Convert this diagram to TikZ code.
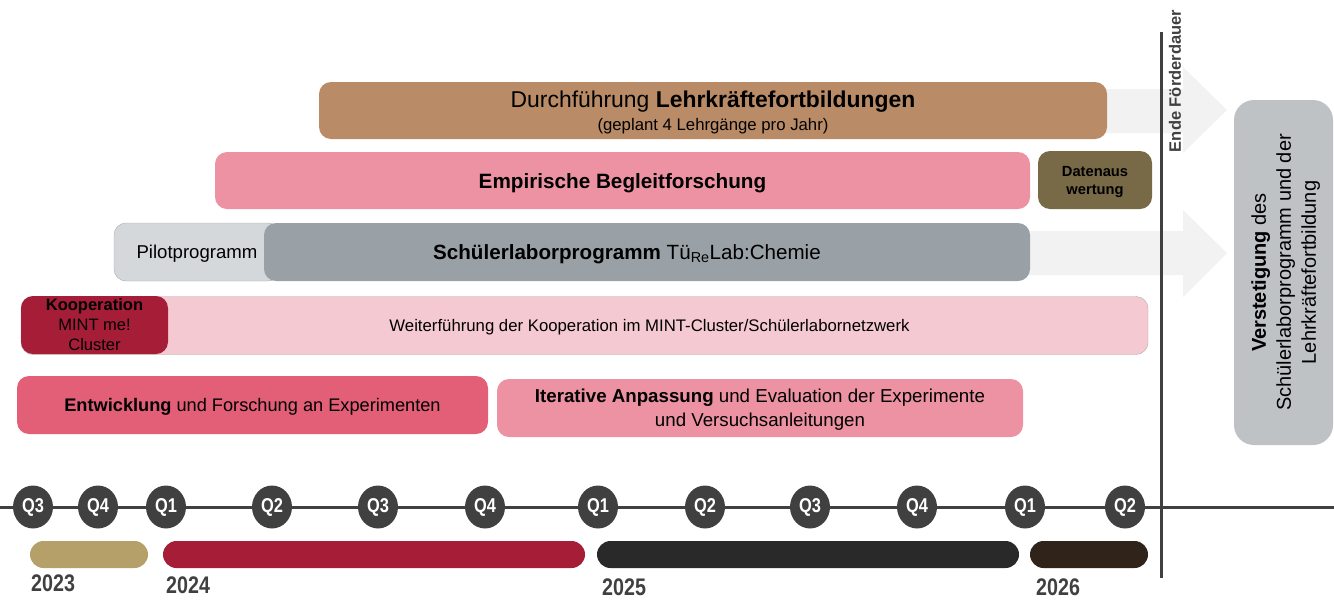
\documentclass[tikz,border=0pt]{standalone}
\usepackage{fontspec}
\setmainfont{Liberation Sans}
\newfontfamily\narrowfont{Liberation Sans}[FakeStretch=0.82]
\usetikzlibrary{shapes.geometric}
\definecolor{fortbraun}{HTML}{B98C67}
\definecolor{rosa}{HTML}{EC92A2}
\definecolor{datenbraun}{HTML}{786A46}
\definecolor{pilotgrau}{HTML}{D5D8DB}
\definecolor{laborgrau}{HTML}{99A0A6}
\definecolor{hellrosa}{HTML}{F5C9D1}
\definecolor{randgrau}{HTML}{ABABAB}
\definecolor{kooprot}{HTML}{A51D37}
\definecolor{entwrot}{HTML}{E35F77}
\definecolor{verstgrau}{HTML}{BEC2C5}
\definecolor{pfeilgrau}{HTML}{F2F2F2}
\definecolor{dunkelgrau}{HTML}{404040}
\definecolor{gold}{HTML}{B5A06A}
\definecolor{fastschwarz}{HTML}{292929}
\definecolor{dunkelbraun}{HTML}{30231A}
\tikzset{
	balken/.style={rectangle, rounded corners=12pt, inner sep=0pt, minimum height=58pt, align=center, text=black, text depth=0pt},
	achse/.style={draw=dunkelgrau, line width=3pt},
	quartal/.style={ellipse, fill=dunkelgrau, text=white, inner sep=0pt, minimum width=40pt, minimum height=43pt, font=\narrowfont\bfseries\fontsize{20}{20}\selectfont},
	jahr/.style={rectangle, rounded corners=13.5pt, inner sep=0pt, minimum height=27pt},
	jahrtext/.style={anchor=west, inner sep=0pt, text=dunkelgrau, font=\narrowfont\bfseries\fontsize{24}{24}\selectfont}
}
\begin{document}
\begin{tikzpicture}[x=1pt,y=-1pt]
	\useasboundingbox (0,0) rectangle (1334,614);
	\fill[pfeilgrau](1090,89)--(1183,89)--(1183,67)--(1227,110)--(1183,153)--(1183,133)--(1090,133)--cycle;
	\fill[pfeilgrau](1020,231)--(1183,231)--(1183,210)--(1227,253)--(1183,297)--(1183,275)--(1020,275)--cycle;
	\coordinate (ende oben) at (1161,32);
	\coordinate (ende unten) at (1161,578);
	\coordinate (achse links) at (0,507);
	\coordinate (achse rechts) at (1334,507);
	\draw[achse] (ende oben)--(ende unten);
	\draw[achse] (achse links)--(achse rechts);
	\node[rotate=90, inner sep=0pt, text=dunkelgrau, font=\bfseries\fontsize{16.5}{16}\selectfont] (ende) at (1175,81) {Ende Förderdauer};
	\node[balken, fill=fortbraun, minimum width=788pt, minimum height=57pt, font=\fontsize{16.75}{22.5}\selectfont, text depth=-1.5pt] (fortbildung) at (713,110.5) {{\fontsize{22.9}{22}\selectfont Durchführung \textbf{Lehrkräftefortbildungen}}\\(geplant 4 Lehrgänge pro Jahr)};
	\node[balken, fill=rosa, minimum width=815pt, minimum height=57pt, font=\bfseries\fontsize{20.7}{24}\selectfont] (begleitung) at (622.5,180.5) {Empirische Begleitforschung};
	\node[balken, fill=datenbraun, minimum width=114pt, font=\bfseries\fontsize{14.7}{18}\selectfont] (daten) at (1095,180) {Datenaus\\wertung};
	\node[balken, fill=pilotgrau, draw=randgrau, minimum width=166pt, font=\fontsize{18.6}{22}\selectfont] (pilot) at (197,252) {Pilotprogramm};
	\node[balken, fill=laborgrau, minimum width=766pt] (labor) at (647,252) {};
	\node[inner sep=0pt, text depth=0pt, font=\fontsize{20.6}{24}\selectfont] (labortext) at ([xshift=-20pt]labor.center) {\textbf{Schülerlaborprogramm} Tü\textsubscript{Re}Lab:Chemie};
	\node[balken, fill=hellrosa, draw=randgrau, minimum width=1127pt] (netzwerk) at (584.5,325.5) {};
	\node[inner sep=0pt, text depth=0pt, font=\fontsize{16.75}{20}\selectfont] (netzwerktext) at ([xshift=65pt]netzwerk.center) {Weiterführung der Kooperation im MINT-Cluster/Schülerlabornetzwerk};
	\node[balken, fill=kooprot, minimum width=147pt, font=\fontsize{16.5}{20}\selectfont] (kooperation) at (94.5,325) {\textbf{Kooperation}\\MINT me!\\Cluster};
	\node[balken, fill=entwrot, minimum width=471pt, font=\fontsize{18.2}{22}\selectfont] (entwicklung) at (252.5,405) {\textbf{Entwicklung} und Forschung an Experimenten};
	\node[balken, fill=rosa, minimum width=526pt, font=\fontsize{18.7}{24}\selectfont] (anpassung) at (760,408) {\textbf{Iterative Anpassung} und Evaluation der Experimente\\und Versuchsanleitungen};
	\node[balken, fill=verstgrau, rounded corners=20pt, rotate=90, minimum width=345pt, minimum height=99pt, font=\fontsize{20}{25}\selectfont] (verstetigung) at (1283.5,272.5) {\textbf{Verstetigung} des\\Schülerlaborprogramm und der\\Lehrkräftefortbildung};
	\foreach \x/\q/\n in {33/3/a,98/4/b,166/1/c,272/2/d,378/3/e,485/4/f,598/1/g,705/2/h,810/3/i,917/4/j,1025/1/k,1125/2/l}
		\node[quartal] (q\n) at (\x,507) {Q\q};
	\node[jahr, fill=gold, minimum width=118pt] (j2023) at (89,554.5) {};
	\node[jahr, fill=kooprot, minimum width=422pt] (j2024) at (374,554.5) {};
	\node[jahr, fill=fastschwarz, minimum width=422pt] (j2025) at (808,554.5) {};
	\node[jahr, fill=dunkelbraun, minimum width=118pt] (j2026) at (1089,554.5) {};
	\node[jahrtext] (t2023) at (31,583.5) {2023};
	\node[jahrtext] (t2024) at (166,585) {2024};
	\node[jahrtext] (t2025) at (602,587) {2025};
	\node[jahrtext] (t2026) at (1036,587) {2026};
\end{tikzpicture}
\end{document}
